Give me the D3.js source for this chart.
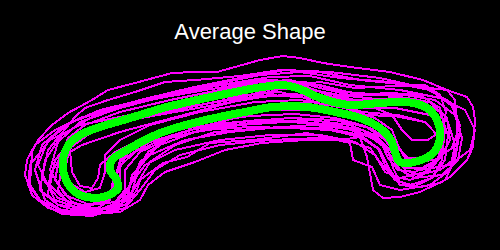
<!DOCTYPE html>
<html>
<head>
<meta charset="utf-8">
<script src="https://cdn.jsdelivr.net/npm/d3@7"></script>
<style>
  html, body { margin: 0; padding: 0; background: #000; }
  svg { display: block; }
</style>
</head>
<body>
<svg id="chart"></svg>
<script>
const width = 500;
const height = 250;
const TITLE = 'Average Shape';

// landmark outlines of each sample, in image coordinates (x right, y down)
const shape1 = [[30,185],[32,152],[38,140],[52,125],[68,113],[92,100],[108,90],[135,83],[172,73],[195,72],[217,72],[260,60],[283,56],[300,58],[323,63],[350,67],[390,72],[423,80],[447,90],[467,97],[473,107],[475,120],[473,147],[467,160],[450,177],[440,183],[420,187],[400,185],[390,170],[380,150],[360,137],[330,130],[290,128],[250,127],[205,130],[170,138],[148,152],[138,170],[132,192],[118,208],[92,216],[62,214],[42,203]];
const shape2 = [[42,178],[48,150],[75,117],[85,108],[108,100],[135,92],[165,82],[195,80],[240,76],[280,70],[320,72],[360,80],[400,84],[430,88],[447,90],[455,100],[457,120],[457,147],[453,160],[440,170],[418,175],[405,170],[396,155],[385,140],[365,126],[335,118],[295,114],[250,116],[205,122],[165,130],[135,145],[120,162],[120,185],[108,200],[82,206],[58,198]];
const shape3 = [[35,170],[42,145],[65,125],[100,110],[150,98],[210,85],[260,75],[300,72],[340,78],[390,82],[430,90],[455,108],[460,130],[455,160],[445,180],[420,192],[400,197],[383,198],[373,190],[367,157],[360,137],[340,140],[320,138],[270,140],[220,145],[180,155],[155,170],[140,190],[125,208],[95,215],[65,212],[45,200]];
const shape4 = [[60,160],[68,138],[85,125],[120,112],[170,100],[220,90],[260,82],[290,80],[320,88],[350,95],[390,93],[420,95],[440,108],[445,130],[438,148],[420,158],[405,158],[398,145],[392,130],[375,118],[345,108],[300,100],[255,102],[200,112],[150,125],[120,140],[105,155],[105,172],[100,188],[85,192],[68,182]];
const shape5 = [[28,185],[30,165],[50,140],[80,125],[130,115],[180,108],[230,100],[270,95],[310,98],[350,108],[395,108],[430,115],[445,130],[442,155],[425,172],[400,178],[385,172],[375,155],[355,142],[320,135],[270,135],[220,140],[175,150],[145,165],[130,185],[115,205],[90,212],[60,210],[40,200]];
const shape6 = [[50,170],[58,142],[80,122],[120,108],[170,95],[220,85],[270,77],[310,76],[350,85],[400,90],[440,98],[465,110],[475,130],[470,150],[450,165],[420,170],[400,165],[390,150],[375,135],[350,125],[310,120],[260,122],[210,128],[170,138],[140,152],[125,170],[125,190],[115,202],[90,205],[65,195]];
const shape7 = [[40,190],[45,160],[62,135],[95,115],[140,100],[190,88],[240,78],[285,70],[330,72],[380,78],[425,88],[450,102],[460,125],[452,148],[435,160],[412,162],[400,150],[385,132],[360,118],[320,110],[270,110],[220,115],[175,125],[140,140],[120,160],[115,180],[108,198],[85,208],[58,205]];
const shape8 = [[55,180],[60,155],[78,135],[110,120],[160,110],[210,100],[260,90],[300,88],[340,95],[385,100],[425,108],[448,122],[455,145],[450,170],[430,185],[400,190],[380,185],[372,167],[353,160],[350,143],[307,133],[253,140],[210,143],[187,157],[163,163],[140,180],[137,190],[125,205],[100,210],[72,202]];
const shape9 = [[65,170],[70,145],[90,128],[130,115],[180,103],[230,95],[275,88],[315,90],[355,100],[400,98],[430,102],[447,118],[450,140],[440,158],[422,168],[405,168],[395,155],[388,140],[370,128],[335,120],[290,118],[240,122],[190,130],[150,142],[125,158],[115,178],[112,195],[95,200],[75,192]];
const shape10 = [[38,165],[48,140],[72,122],[110,108],[160,96],[215,86],[265,80],[305,82],[345,92],[385,95],[420,100],[440,112],[448,135],[445,160],[432,178],[410,185],[395,180],[385,165],[378,148],[360,135],[325,128],[280,127],[230,132],[185,140],[150,155],[132,175],[128,195],[112,208],[85,210],[55,200]];
const shape11 = [[50,185],[55,160],[72,140],[105,125],[150,115],[200,105],[250,95],[285,85],[320,85],[360,95],[405,95],[435,100],[455,115],[462,138],[458,160],[442,175],[415,178],[400,170],[390,155],[378,140],[355,130],[315,125],[265,128],[215,132],[175,145],[150,162],[138,182],[128,200],[105,212],[78,212]];
const shape12 = [[25,175],[27,160],[35,145],[55,130],[80,118],[120,106],[160,98],[205,90],[245,84],[275,80],[300,84],[330,96],[365,104],[400,104],[428,108],[440,120],[444,142],[436,162],[415,172],[398,170],[388,158],[380,140],[362,130],[330,124],[285,122],[240,125],[195,132],[160,145],[140,162],[132,182],[122,200],[100,210],[72,215],[48,208],[32,195]];
const shape13 = [[58,190],[62,165],[70,148],[92,132],[130,120],[175,112],[220,104],[262,97],[295,94],[330,100],[362,112],[398,115],[425,122],[440,138],[440,158],[428,172],[410,180],[392,176],[380,162],[370,148],[345,140],[305,140],[262,143],[225,150],[195,162],[165,172],[148,185],[140,200],[120,212],[92,214],[70,205]];
const shape14 = [[70,150],[78,135],[95,126],[125,118],[165,108],[205,100],[245,95],[280,92],[305,98],[330,108],[360,115],[395,116],[425,122],[440,138],[442,160],[432,178],[415,186],[400,182],[393,168],[388,150],[372,138],[345,128],[305,122],[260,120],[215,124],[175,130],[140,140],[115,152],[100,165],[98,178],[92,188],[80,186],[72,172]];
const shape15 = [[48,195],[50,175],[60,158],[82,145],[120,132],[165,120],[210,108],[255,96],[290,86],[320,82],[355,88],[395,86],[425,85],[440,95],[446,112],[442,130],[428,140],[412,140],[402,130],[392,115],[370,106],[335,100],[295,104],[250,114],[205,126],[165,138],[135,152],[118,168],[112,185],[110,200],[98,208],[75,210],[58,205]];

const samples = [shape1, shape2, shape3, shape4, shape5, shape6, shape7, shape8, shape9, shape10, shape11, shape12, shape13, shape14, shape15];

// mean outline
const meanShape = [[63,160],[70,143],[82,134],[100,127],[120,121],[140,115],[163,108],[197,100],[230,93],[250,89],[270,86],[283,85],[300,89],[315,96],[330,101],[350,105],[380,103],[407,102],[427,108],[437,120],[440,138],[434,152],[418,161],[400,162],[395,152],[391,140],[380,128],[360,118],[340,113],[307,107],[273,107],[250,111],[197,122],[163,132],[147,139],[127,150],[112,160],[110,170],[116,179],[118,188],[103,197],[80,195],[67,182]];

const svg = d3.select('#chart')
  .attr('width', width)
  .attr('height', height)
  .style('background', '#000');

const x = d3.scaleLinear().domain([0, 500]).range([0, width]);
const y = d3.scaleLinear().domain([0, 250]).range([0, height]);

const outline = d3.line()
  .x((d) => x(d[0]))
  .y((d) => y(d[1]))
  .curve(d3.curveLinearClosed);

const smoothOutline = d3.line()
  .x((d) => x(d[0]))
  .y((d) => y(d[1]))
  .curve(d3.curveCatmullRomClosed);

svg.append('g')
  .selectAll('path')
  .data(samples)
  .join('path')
  .attr('d', outline)
  .attr('fill', 'none')
  .attr('stroke', '#ff00ff')
  .attr('stroke-width', 2)
  .attr('shape-rendering', 'crispEdges');

svg.append('path')
  .datum(meanShape)
  .attr('d', smoothOutline)
  .attr('fill', 'none')
  .attr('stroke', '#00ff00')
  .attr('stroke-width', 8)
  .attr('stroke-linejoin', 'round')
  .attr('shape-rendering', 'crispEdges');

svg.append('text')
  .attr('x', width / 2)
  .attr('y', 39)
  .attr('text-anchor', 'middle')
  .attr('fill', '#fff')
  .style('font-family', 'Liberation Sans, Arial, sans-serif')
  .style('font-size', '22px')
  .text(TITLE);
</script>
</body>
</html>
